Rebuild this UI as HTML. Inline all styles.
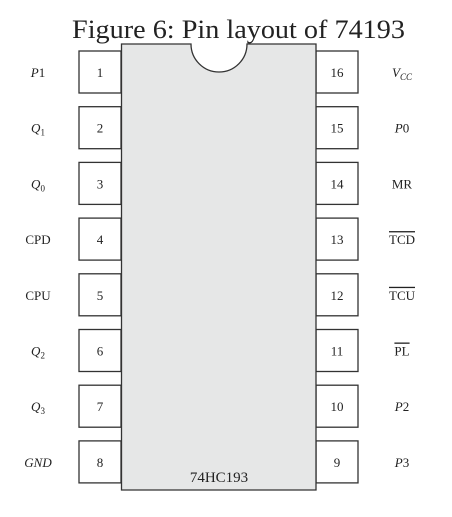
<!DOCTYPE html>
<html><head><meta charset="utf-8"><style>
body{margin:0;background:#fff;}
svg text{font-family:"Liberation Serif",serif;fill:#222;}
</style></head><body>
<svg width="452" height="512" viewBox="0 0 452 512">
<text x="72" y="38" font-size="26" textLength="333" lengthAdjust="spacingAndGlyphs">Figure 6: Pin layout of 74193</text>
<g id="pins"></g>
<path d="M121.5 44 H191 A28 28 0 0 0 247 44 H316 V490 H121.5 Z" fill="#e6e7e7" stroke="#333" stroke-width="1.3"/>
<text x="219" y="482" font-size="15" text-anchor="middle">74HC193</text>
</svg>
<script>
const leftNums=[1,2,3,4,5,6,7,8];
const rightNums=[16,15,14,13,12,11,10,9];
const leftLabels=['P1','Q1','Q0','CPD','CPU','Q2','Q3','GND'];
const rightLabels=['VCC','P0','MR','TCD','TCU','PL','P2','P3'];
const g=document.getElementById('pins');
const NS='http://www.w3.org/2000/svg';
function fmt(t,lab){
  const m={'P1':['P','1',0],'Q1':['Q','1',1],'Q0':['Q','0',1],'Q2':['Q','2',1],'Q3':['Q','3',1],'GND':['GND','',0],'VCC':['V','CC',1],'P2':['P','2',0],'P3':['P','3',0],'P0':['P','0',0]};
  if(m[lab]){const[a,b,sub]=m[lab];
    const s1=document.createElementNS(NS,'tspan');s1.setAttribute('font-style','italic');s1.textContent=a;t.appendChild(s1);
    if(b){const s2=document.createElementNS(NS,'tspan');s2.textContent=b;
      if(sub){s2.setAttribute('font-size','9');s2.setAttribute('dy','3');if(lab==='VCC')s2.setAttribute('font-style','italic');}
      t.appendChild(s2);}
  } else {t.textContent=lab;
    if(['TCD','TCU','PL'].includes(lab))t.setAttribute('text-decoration','overline');}
}
for(let i=0;i<8;i++){
  const y=51+i*55.7;
  [[79,leftNums[i],leftLabels[i],38],[316,rightNums[i],rightLabels[i],402]].forEach(([x,n,lab,lx],k)=>{
    const r=document.createElementNS(NS,'rect');
    r.setAttribute('x',x);r.setAttribute('y',y);r.setAttribute('width',42);r.setAttribute('height',42);
    r.setAttribute('fill','#fff');r.setAttribute('stroke','#333');r.setAttribute('stroke-width','1.3');
    
    
    g.appendChild(r);
    const t=document.createElementNS(NS,'text');
    t.setAttribute('x',x+21);t.setAttribute('y',y+26);t.setAttribute('font-size','13');t.setAttribute('text-anchor','middle');
    t.textContent=n;
    
    
    g.appendChild(t);
    const l=document.createElementNS(NS,'text');
    l.setAttribute('x',lx);l.setAttribute('y',y+26);l.setAttribute('font-size','13');l.setAttribute('text-anchor','middle');
    fmt(l,lab);
    
    
    g.appendChild(l);
  });
}
</script>
</body></html>
